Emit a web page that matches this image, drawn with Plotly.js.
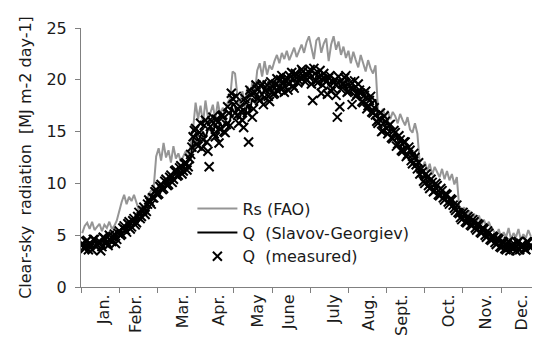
<!DOCTYPE html>
<html>
<head>
<meta charset="utf-8">
<script src="https://cdn.plot.ly/plotly-3.0.1.min.js"></script>
<style>html,body{margin:0;padding:0;background:#fff;}#chart{width:538px;height:343px;}</style>
</head>
<body>
<div id="chart"></div>
<script>
// Month labels and their positions (day of year)
const monthLabels = ["Jan.", "Febr.", "Mar.", "Apr.", "May", "June", "July", "Aug.", "Sept.", "Oct.", "Nov.", "Dec."];
const monthLabelDays = [18.6, 44.5, 82.5, 111.7, 143.3, 168.3, 205.5, 233.8, 260.5, 298.6, 328.2, 357.9];

// Rs (FAO), every 2nd day starting day 1
const rsFAO = [
  5.2, 5.9, 6.2, 5.6, 6.3, 5.5, 5.8, 6.1, 5.4, 6.0, 5.7, 6.3, 5.6, 5.9, 6.4,
  7.4, 8.2, 8.9, 8.0, 8.7, 8.3, 8.9, 8.1,
  7.4, 7.8, 7.2, 7.7, 9.0, 9.3,
  9.6, 12.6, 13.4, 12.2, 13.9, 12.5, 13.2, 12.0, 13.6, 12.4, 12.9, 12.1, 12.6, 13.1, 12.3, 14.0,
  15.3, 17.8, 16.2, 17.5, 15.8, 18.0, 16.4,
  16.8, 17.6, 16.1, 17.9, 16.6, 17.3, 16.9, 17.8, 18.2,
  20.8, 20.6, 18.4,
  17.6, 18.9, 17.4, 19.4, 18.0, 19.8, 18.6,
  20.9, 21.6, 20.3, 21.8, 20.5, 21.4, 21.0,
  21.8, 22.4, 21.6, 22.6, 22.0, 22.8, 21.9, 22.5, 23.1, 22.2, 22.9, 23.4, 22.6,
  23.6, 24.2, 23.1, 22.0, 23.8, 24.1, 22.6, 23.5, 24.0, 21.8, 23.4, 24.2, 22.9, 23.7, 22.4,
  23.2, 22.1, 22.8, 21.6, 22.7, 21.9, 21.2, 22.4, 21.6, 20.8, 21.9, 21.1, 20.6, 21.4,
  17.1, 16.6, 17.2, 16.4, 17.0, 16.2, 16.9, 16.5, 15.8, 16.7, 16.1, 15.6, 16.4, 15.2, 14.9, 15.8, 14.8,
  11.8, 11.4, 12.1, 11.2, 11.9, 10.8, 11.6, 11.1, 10.6, 11.4, 10.4, 11.2, 10.3, 10.9, 9.9, 10.6,
  7.6, 7.2, 7.7, 6.9, 7.4, 6.6, 7.1, 6.2, 6.9, 6.0, 6.5, 5.8, 6.3, 5.6,
  5.4, 4.9, 5.6, 4.7, 5.3, 4.8, 5.7, 4.6, 5.2, 4.8, 5.6, 4.5, 5.1, 4.7, 5.5, 4.9
];

// Q (Slavov-Georgiev), every 2nd day starting day 1
const qSG = [
  4.0, 4.2, 3.9, 4.3, 4.1, 4.4, 4.0, 4.2, 4.5, 4.1, 4.4, 4.6, 4.3, 4.7, 4.9,
  5.1, 5.4, 5.3, 5.8, 5.9, 6.2, 6.4, 6.5,
  6.9, 7.1, 7.4, 7.8, 8.1, 8.4,
  8.8, 9.0, 9.3, 9.5, 9.8, 10.0, 10.2, 10.5, 10.7, 11.0, 11.1, 11.4, 11.6, 11.8, 12.1, 12.4,
  14.2, 14.8, 14.1, 14.6, 15.0, 14.4, 15.2,
  15.4, 15.0, 15.6, 15.2, 15.8, 15.4, 15.9, 15.6, 16.1,
  17.8, 17.5, 16.2,
  16.4, 17.2, 16.6, 17.6, 17.0, 18.2, 17.8,
  18.6, 19.0, 18.5, 19.2, 18.7, 19.3, 18.9,
  19.2, 19.5, 19.1, 19.7, 19.4, 19.9, 19.5, 20.1, 19.8, 20.3, 19.9, 20.5, 20.2,
  20.6, 20.9, 20.2, 19.6, 20.4, 20.8, 19.8, 20.2, 20.5, 19.4, 19.9, 20.1, 19.5, 19.8, 19.2,
  19.8, 19.4, 19.7, 19.0, 19.5, 19.1, 18.6, 19.2, 18.8, 18.2, 18.6, 18.0, 17.8, 18.1,
  16.5, 16.0, 16.3, 15.6, 15.8, 15.1, 15.3, 14.7, 14.2, 14.5, 13.8, 13.4, 13.7, 13.0, 12.6, 12.9, 12.2,
  10.8, 10.5, 10.7, 10.2, 10.0, 9.7, 9.8, 9.4, 9.1, 9.2, 8.7, 8.8, 8.3, 8.2, 7.8, 7.6,
  7.0, 6.8, 6.9, 6.5, 6.4, 6.1, 6.2, 5.8, 5.8, 5.5, 5.4, 5.1, 5.0, 4.8,
  4.6, 4.4, 4.5, 4.2, 4.3, 4.0, 4.2, 3.9, 4.1, 3.8, 4.0, 4.1, 3.8, 4.2, 3.9, 4.1
];

// Q (measured), even days (2, 4, ... 364)
const qMeasuredEven = [
  3.8, 4.4, 3.6, 4.1, 4.6, 3.9, 4.3, 3.5, 4.8, 4.2, 4.0, 4.5, 4.9, 4.2, 5.2,
  5.0, 5.7, 5.5, 6.1, 5.6, 6.4, 6.0, 6.8,
  6.6, 7.4, 7.0, 8.0, 8.2, 8.6,
  9.2, 8.9, 9.7, 9.4, 10.2, 9.8, 10.6, 10.1, 11.2, 10.7, 11.5, 10.9, 11.9, 11.3, 12.4, 13.5,
  15.1, 13.8, 14.9, 13.4, 15.6, 14.0, 11.6,
  16.0, 14.8, 16.2, 13.9, 16.5, 15.0, 15.7, 16.8, 18.7,
  17.6, 18.4, 15.8,
  16.9, 15.4, 17.8, 14.0, 18.6, 17.2, 19.5,
  18.2, 19.4, 17.6, 19.0, 18.4, 19.8, 18.6,
  19.6, 18.9, 20.0, 19.2, 19.9, 19.0, 20.3, 19.4, 20.6, 19.7, 20.2, 20.8, 19.8,
  20.4, 21.0, 18.0, 20.6, 19.7, 20.9, 19.5, 20.1, 18.6, 20.4, 19.2, 20.0, 16.4, 17.4, 19.6,
  20.2, 18.8, 19.4, 17.6, 19.9, 18.6, 19.0, 17.9, 18.5, 17.2, 18.0, 16.9, 17.3, 16.0,
  16.2, 15.0, 16.5, 15.3, 15.6, 14.4, 15.1, 13.6, 14.6, 13.2, 14.0, 12.6, 13.5, 12.2, 12.9, 11.8, 12.0,
  11.4, 10.2, 10.9, 9.8, 10.4, 9.2, 10.0, 8.9, 9.5, 8.6, 9.0, 8.2, 8.5, 7.9, 7.4, 7.2,
  6.7, 7.2, 6.3, 6.8, 6.0, 6.5, 5.7, 6.1, 5.3, 5.7, 5.0, 5.4, 4.6, 4.9,
  4.3, 4.7, 3.9, 4.4, 3.7, 4.2, 3.5, 4.0, 3.8, 4.3, 3.6, 4.1, 3.7, 4.4, 3.9
];

// Q (measured), odd days (1, 3, ... 365)
const qMeasuredOdd = [
  4.2, 3.7, 4.5, 4.0, 3.6, 4.6, 4.1, 4.4, 3.9, 4.7, 4.3, 5.0, 4.4, 5.1, 4.6,
  5.4, 5.1, 5.9, 5.3, 6.3, 5.8, 6.6, 6.2,
  7.2, 6.8, 7.7, 7.3, 8.4, 8.0,
  8.6, 9.4, 9.0, 9.9, 9.5, 10.4, 9.9, 10.8, 10.4, 11.3, 10.8, 11.7, 11.2, 12.0, 11.6, 12.8,
  14.5, 15.3, 13.6, 15.8, 14.2, 16.1, 13.1,
  15.5, 16.4, 14.5, 15.9, 15.2, 16.6, 14.9, 17.4, 15.6,
  18.2, 16.8, 16.6,
  17.4, 16.1, 18.2, 16.8, 19.0, 16.4, 18.8,
  19.1, 18.0, 19.6, 18.3, 19.5, 17.9, 19.4,
  18.7, 20.1, 19.3, 20.4, 18.8, 20.2, 19.6, 20.7, 19.2, 20.5, 19.9, 21.0, 20.3,
  20.0, 20.7, 19.6, 21.1, 19.9, 20.3, 18.7, 20.6, 19.8, 20.2, 18.9, 19.7, 18.5, 20.3, 19.1,
  19.6, 20.4, 18.9, 19.8, 19.1, 18.4, 19.6, 18.7, 17.8, 18.9, 17.5, 18.4, 16.8, 16.6,
  15.8, 16.8, 15.1, 16.0, 14.8, 15.7, 14.3, 14.9, 13.8, 14.2, 13.1, 14.0, 12.8, 13.2, 11.9, 12.5, 11.4,
  10.9, 11.1, 10.0, 10.6, 9.5, 10.1, 9.3, 9.8, 8.8, 9.3, 8.4, 8.9, 8.0, 8.4, 7.6, 7.9,
  7.1, 6.5, 7.0, 6.2, 6.6, 5.9, 6.3, 5.5, 6.0, 5.2, 5.6, 4.8, 5.2, 4.5,
  4.8, 4.1, 4.6, 3.8, 4.3, 3.6, 4.4, 3.8, 4.2, 3.5, 4.4, 3.9, 4.0, 3.6, 4.3, 3.8
];

const daysOdd = rsFAO.map((_, i) => 1 + 2 * i);
const daysEven = qMeasuredEven.map((_, i) => 2 + 2 * i);
const daysMeasOdd = qMeasuredOdd.map((_, i) => 1 + 2 * i);

const FONT = "DejaVu Sans, Verdana, sans-serif";
const AXC = "#808080";
const TXT = "#1a1a1a";

const traces = [
  {
    x: daysOdd, y: rsFAO, type: "scatter", mode: "lines",
    name: "Rs (FAO)",
    line: {color: "#959595", width: 2}
  },
  {
    x: daysOdd, y: qSG, type: "scatter", mode: "lines",
    name: "Q\u00a0\u00a0(Slavov-Georgiev)",
    line: {color: "#000000", width: 2}
  },
  {
    x: daysEven.concat(daysMeasOdd), y: qMeasuredEven.concat(qMeasuredOdd),
    type: "scatter", mode: "markers",
    name: "Q\u00a0\u00a0(measured)",
    marker: {symbol: "x-thin", size: 9, color: "#000", line: {color: "#000", width: 2}}
  }
];

const layout = {
  width: 538, height: 343,
  margin: {l: 81, r: 6, t: 28, b: 56, pad: 0},
  paper_bgcolor: "#fff", plot_bgcolor: "#fff",
  font: {family: FONT, size: 16, color: TXT},
  showlegend: true,
  legend: {
    x: 0.247, y: 0.368, xanchor: "left", yanchor: "top",
    bgcolor: "rgba(0,0,0,0)", borderwidth: 0,
    itemwidth: 40,
    font: {family: FONT, size: 16, color: TXT},
    tracegroupgap: 0
  },
  xaxis: {
    range: [0, 366],
    tickmode: "array", tickvals: monthLabelDays, ticktext: monthLabels,
    ticks: "", tickangle: -90,
    tickfont: {family: FONT, size: 16, color: TXT},
    showline: true, linecolor: AXC, linewidth: 1,
    showgrid: false, zeroline: false, fixedrange: true,
    minor: {tickmode: "linear", tick0: 0, dtick: 31, ticks: "outside", ticklen: 5, tickcolor: AXC, tickwidth: 1, showgrid: false}
  },
  yaxis: {
    range: [0, 25], tickmode: "linear", tick0: 0, dtick: 5,
    ticks: "outside", ticklen: 5, tickcolor: AXC,
    ticklabelstandoff: 5,
    tickfont: {family: FONT, size: 16, color: TXT},
    showline: true, linecolor: AXC, linewidth: 1,
    showgrid: false, zeroline: false, fixedrange: true,
    title: {text: "Clear-sky\u00a0\u00a0radiation\u00a0\u00a0[MJ m-2 day-1]", font: {family: FONT, size: 16, color: TXT}, standoff: 10}
  }
};

Plotly.newPlot("chart", traces, layout, {displayModeBar: false, staticPlot: true});
</script>
</body>
</html>
